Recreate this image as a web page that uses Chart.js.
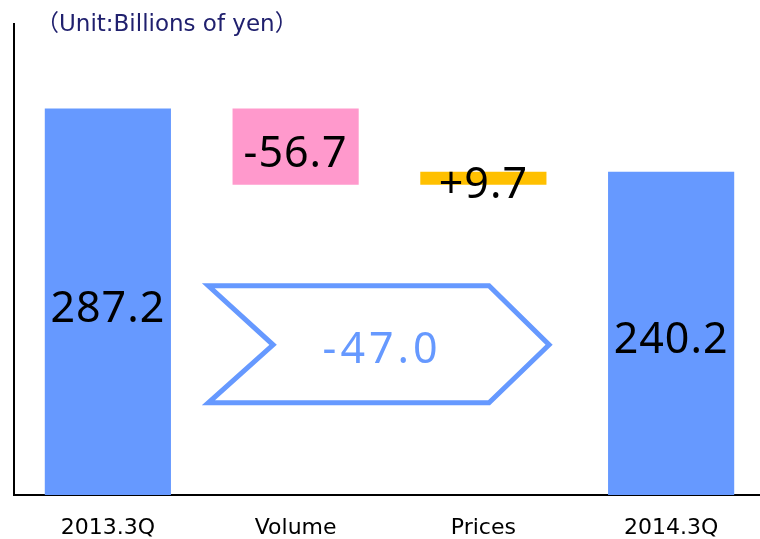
<!DOCTYPE html>
<html>
<head>
<meta charset="utf-8">
<script src="https://cdn.jsdelivr.net/npm/chart.js@4/dist/chart.umd.min.js"></script>
<style>
  html, body { margin: 0; padding: 0; background: #ffffff; overflow: hidden; }
  #wrap { position: relative; width: 765px; height: 561px; }
</style>
</head>
<body>
<div id="wrap"><canvas id="c"></canvas></div>
<script>
// ---- data ----
const categories = ['2013.3Q', 'Volume', 'Prices', '2014.3Q'];
const startValue = 287.2;          // 2013.3Q
const changes = [-56.7, 9.7];      // Volume, Prices
const endValue = 240.2;            // 2014.3Q
const totalChange = -47.0;
const valueLabels = ['287.2', '-56.7', '+9.7', '240.2'];
const totalLabel = '-47.0';
const unitTitle = '\uFF08Unit:Billions of yen\uFF09';

// floating bars for the waterfall
const afterVolume = startValue + changes[0];
const afterPrices = afterVolume + changes[1];
const barData = [
  [0, startValue],
  [Math.min(startValue, afterVolume), Math.max(startValue, afterVolume)],
  [Math.min(afterVolume, afterPrices), Math.max(afterVolume, afterPrices)],
  [0, endValue]
];
const barColors = ['#6699FF', '#FF99CC', '#FFC000', '#6699FF'];

const NUM_FONT = '43px "Noto Sans", "Liberation Sans", sans-serif';

const overlay = {
  id: 'overlay',
  afterDatasetsDraw(chart) {
    const ctx = chart.ctx;
    const xs = chart.scales.x, ys = chart.scales.y;
    const meta = chart.getDatasetMeta(0);
    ctx.save();

    // arrow annotation (category units / value units)
    const xLeft = xs.getPixelForValue(0.535), xNotch = xs.getPixelForValue(0.88);
    const xCorner = xs.getPixelForValue(2.03), xTip = xs.getPixelForValue(2.35);
    const yTop = ys.getPixelForValue(155.5), yMid = ys.getPixelForValue(111.6), yBot = ys.getPixelForValue(68.5);
    ctx.beginPath();
    ctx.moveTo(xLeft, yTop);
    ctx.lineTo(xCorner, yTop);
    ctx.lineTo(xTip, yMid);
    ctx.lineTo(xCorner, yBot);
    ctx.lineTo(xLeft, yBot);
    ctx.lineTo(xNotch, yMid);
    ctx.closePath();
    ctx.lineWidth = 5;
    ctx.lineJoin = 'miter';
    ctx.strokeStyle = '#6699FF';
    ctx.stroke();

    ctx.font = NUM_FONT;
    ctx.textAlign = 'center';
    ctx.textBaseline = 'alphabetic';
    ctx.fillStyle = '#6699FF';
    ctx.letterSpacing = '4px';
    ctx.fillText(totalLabel, xs.getPixelForValue(1.45) + 2, yMid + 18);

    // value labels
    ctx.letterSpacing = '1px';
    ctx.fillStyle = '#000000';
    meta.data.forEach((bar, i) => {
      const cy = (bar.y + bar.base) / 2;
      ctx.fillText(valueLabels[i], bar.x, cy + 20);
    });

    // unit title
    ctx.letterSpacing = '0px';
    ctx.textAlign = 'left';
    ctx.font = '23px "DejaVu Sans", "Noto Sans CJK JP", sans-serif';
    ctx.fillStyle = '#20206E';
    ctx.fillText(unitTitle, 36, 31);
    ctx.restore();
  }
};

new Chart(document.getElementById('c'), {
  type: 'bar',
  data: {
    labels: categories,
    datasets: [{
      data: barData,
      backgroundColor: barColors,
      borderWidth: 0,
      barPercentage: 0.672,
      categoryPercentage: 1.0
    }]
  },
  options: {
    responsive: true,
    maintainAspectRatio: false,
    animation: false,
    layout: { padding: { left: 14, right: 0, top: 24, bottom: 0 } },
    plugins: { legend: { display: false }, tooltip: { enabled: false }, title: { display: false } },
    scales: {
      x: {
        grid: { display: false, drawTicks: false },
        border: { display: true, color: '#000000', width: 2 },
        ticks: {
          color: '#000000',
          padding: 22,
          font: { family: '"DejaVu Sans", sans-serif', size: 22, lineHeight: 1 }
        }
      },
      y: {
        min: 0,
        max: 350,
        grid: { display: false, drawTicks: false },
        border: { display: true, color: '#000000', width: 2 },
        ticks: { display: false }
      }
    }
  },
  plugins: [overlay]
});
</script>
</body>
</html>
